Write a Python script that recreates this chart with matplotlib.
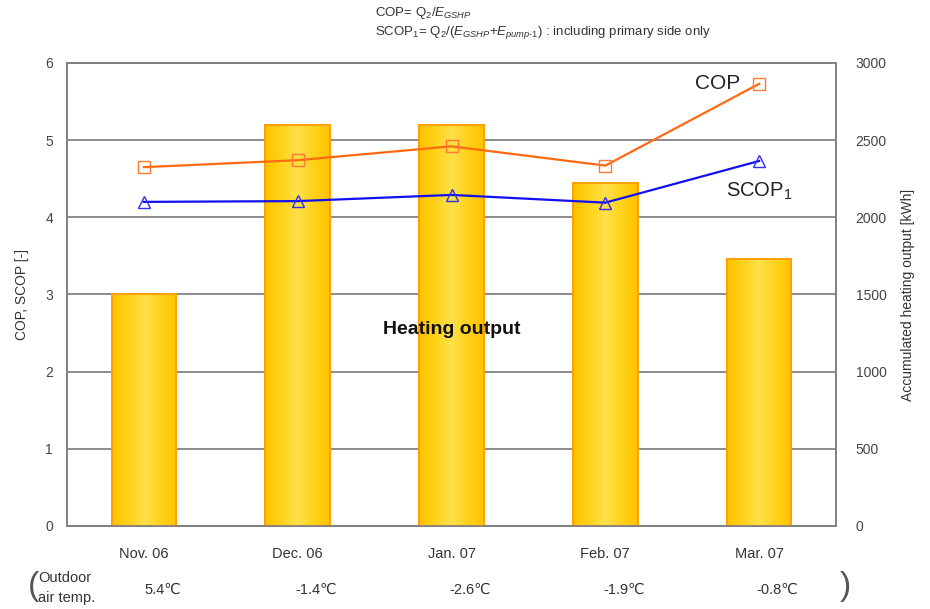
import numpy as np
import matplotlib
matplotlib.use("Agg")
import matplotlib.pyplot as plt
from matplotlib.colors import LinearSegmentedColormap
from matplotlib.patches import Rectangle

plt.rcParams["font.family"] = ["Liberation Sans", "DejaVu Sans"]
plt.rcParams["mathtext.fontset"] = "custom"
plt.rcParams["mathtext.rm"] = "Liberation Sans"
plt.rcParams["mathtext.it"] = "Liberation Sans:italic"

# Monthly data
months = ["Nov. 06", "Dec. 06", "Jan. 07", "Feb. 07", "Mar. 07"]
outdoor_temp = ["5.4\u2103", "-1.4\u2103", "-2.6\u2103", "-1.9\u2103", "-0.8\u2103"]
heating_output_kwh = [1500, 2600, 2600, 2220, 1730]
cop = [4.65, 4.74, 4.92, 4.67, 5.73]
scop1 = [4.20, 4.21, 4.29, 4.19, 4.73]

x = np.arange(len(months))

fig = plt.figure(figsize=(9.3, 6.09), dpi=100)
ax = fig.add_axes([0.072, 0.1363, 0.827, 0.7603])
axb = ax.twinx()

# Bars live on the secondary (kWh) axis, drawn below the COP lines
axb.set_zorder(1)
ax.set_zorder(2)
ax.patch.set_visible(False)

axb.set_ylim(0, 3000)
axb.set_xlim(-0.5, 4.5)
axb.set_yticks(np.arange(0, 3001, 500))
axb.grid(axis="y", color="#8c8c8c", lw=1.4)
axb.set_axisbelow(True)

gold = LinearSegmentedColormap.from_list(
    "gold", ["#FFC200", "#FFD21A", "#FFE04A", "#FFD21A", "#FFC200"])
grad = np.linspace(0, 1, 256).reshape(1, -1)
bars = axb.bar(x, heating_output_kwh, width=0.42, color="#FFC800",
               edgecolor="#FFA000", linewidth=1.4, zorder=2)
for rect in bars:
    x0, w, h = rect.get_x(), rect.get_width(), rect.get_height()
    im = axb.imshow(grad, cmap=gold, aspect="auto",
                    extent=(x0, x0 + w, 0, h), zorder=2.5,
                    interpolation="bicubic")
    im.set_clip_path(rect)
    edge = Rectangle((x0, 0), w, h, fill=False, edgecolor="#FFA000",
                     linewidth=1.4, zorder=3)
    axb.add_patch(edge)
axb.set_xlim(-0.5, 4.5)
axb.set_ylim(0, 3000)

# COP lines on the primary axis
ax.plot(x, cop, color="#FF6A10", lw=1.6, marker="s", ms=8,
        markerfacecolor="none", markeredgecolor="#FF7A30", mew=1.0)
ax.plot(x, scop1, color="#1010F0", lw=1.6, marker="^", ms=8,
        markerfacecolor="none", markeredgecolor="#3030F0", mew=1.0)
ax.set_xlim(-0.5, 4.5)
ax.set_ylim(0, 6)
ax.set_yticks(range(0, 7))
ax.set_xticks(x)
ax.set_xticklabels(months)

for a in (ax, axb):
    for s in a.spines.values():
        s.set_color("#808080")
        s.set_linewidth(1.2)
    a.tick_params(length=0, labelsize=10, labelcolor="#444444")
ax.tick_params(axis="y", pad=10)
axb.tick_params(axis="y", pad=14)
ax.tick_params(axis="x", pad=15, labelsize=10.5, labelcolor="#333333")

ax.set_ylabel("COP, SCOP [-]", fontsize=10, color="#333333", labelpad=12)
axb.set_ylabel("Accumulated heating output [kWh]", fontsize=10,
               color="#333333", labelpad=10)

# In-plot annotations
ax.text(3.73, 5.73, "COP", fontsize=15, color="#222222",
        ha="center", va="center")
ax.text(4.0, 4.33, r"SCOP$_1$", fontsize=14.5, color="#222222",
        ha="center", va="center")
ax.text(2.0, 2.55, "Heating output", fontsize=14, fontweight="bold",
        color="#111111", ha="center", va="center")

# Definitions above the plot
fig.text(375 / 930, 1 - 13 / 609, r"COP= Q$_2$/$E_{GSHP}$",
         fontsize=9.5, color="#333333", ha="left", va="center")
fig.text(375 / 930, 1 - 33 / 609,
         r"SCOP$_1$= Q$_2$/($E_{GSHP}$+$E_{pump\text{-}1}$) : including primary side only",
         fontsize=9.5, color="#333333", ha="left", va="center")

# Outdoor air temperature row
trans = ax.get_xaxis_transform()
for xi, t in zip(x, outdoor_temp):
    ax.text(xi + 0.12, -0.138, t, transform=trans, fontsize=10.5,
            color="#333333", ha="center", va="center", clip_on=False)
fig.text(38 / 930, 1 - 578 / 609, "Outdoor", fontsize=10.5,
         color="#333333", ha="left", va="center")
fig.text(38 / 930, 1 - 598 / 609, "air temp.", fontsize=10.5,
         color="#333333", ha="left", va="center")
fig.text(28 / 930, 1 - 586 / 609, "(", fontsize=24,
         color="#555555", ha="left", va="center")
fig.text(840 / 930, 1 - 586 / 609, ")", fontsize=24,
         color="#555555", ha="left", va="center")

fig.savefig("out.png", dpi=100)
